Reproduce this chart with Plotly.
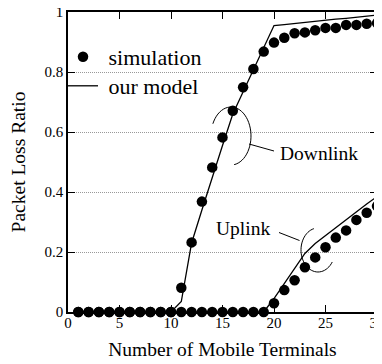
import numpy as np
import plotly.graph_objects as go

# ---------------- data ----------------
terminals = list(range(1, 31))
downlink_sim = [0]*10 + [0.081, 0.232, 0.368, 0.482, 0.582, 0.671, 0.749, 0.810, 0.868, 0.898,
                         0.914, 0.929, 0.932, 0.939, 0.947, 0.947, 0.957, 0.957, 0.961, 0.963]
uplink_sim = [0]*19 + [0.029, 0.073, 0.106, 0.149, 0.182, 0.216, 0.248, 0.272, 0.307, 0.331, 0.353]
downlink_model = [0]*10 + [0.035, 0.23, 0.34, 0.45, 0.555, 0.66, 0.735, 0.81, 0.88, 0.955,
                           0.958, 0.962, 0.965, 0.969, 0.972, 0.976, 0.979, 0.983, 0.986, 0.99]
uplink_model = [0]*19 + [0.045, 0.095, 0.148, 0.195, 0.228, 0.255, 0.282, 0.308, 0.334, 0.36, 0.385]

x_ticks = [0, 5, 10, 15, 20, 25, 30]
y_ticks = [0, 0.2, 0.4, 0.6, 0.8, 1]
y_tick_text = ["0", "0.2", "0.4", "0.6", "0.8", "1"]

FONT = "Liberation Serif"

# page geometry: the page body has an 8px margin, so the figure starts at (8, 8)
OFF = 8
PAGE_W, PAGE_H = 382, 364
PL, PR, PT, PB = 68, 377, 12, 312          # plot area in page pixels
W, H = PAGE_W - OFF, PAGE_H - OFF
ML, MR, MT, MB = PL - OFF, W - (PR - OFF), PT - OFF, H - (PB - OFF)

def px2x(px):
    return (px - PL) / (PR - PL) * 30

def py2y(py):
    return (PB - py) / (PB - PT)

def arc_path(cx, cy, rx, ry, t0, t1, n=40):
    ts = np.radians(np.linspace(t0, t1, n))
    pts = [(px2x(cx + rx*np.cos(t)), py2y(cy + ry*np.sin(t))) for t in ts]
    return "M " + " L ".join(f"{a:.4f},{b:.4f}" for a, b in pts)

fig = go.Figure()

fig.add_trace(go.Scatter(x=terminals, y=downlink_model, mode="lines",
                         line=dict(color="black", width=1.3), name="\u00a0our model",
                         legend="legend2", cliponaxis=False))
fig.add_trace(go.Scatter(x=terminals, y=uplink_model, mode="lines",
                         line=dict(color="black", width=1.3), showlegend=False,
                         cliponaxis=False))
fig.add_trace(go.Scatter(x=terminals, y=downlink_sim, mode="markers",
                         marker=dict(color="black", size=10.5, symbol="circle"),
                         name="\u00a0simulation", legend="legend", cliponaxis=False))
fig.add_trace(go.Scatter(x=terminals, y=uplink_sim, mode="markers",
                         marker=dict(color="black", size=10.5, symbol="circle"),
                         showlegend=False, cliponaxis=False))

shapes = [
    dict(type="path", xref="x", yref="y", path=arc_path(231, 136, 20, 29, -155, 81),
         line=dict(color="black", width=1)),
    dict(type="line", xref="x", yref="y", x0=px2x(249), y0=py2y(144), x1=px2x(274), y1=py2y(151),
         line=dict(color="black", width=1)),
    dict(type="path", xref="x", yref="y", path=arc_path(318, 250, 17, 22, 256, 33),
         line=dict(color="black", width=1)),
    dict(type="line", xref="x", yref="y", x0=px2x(279), y0=py2y(232.5), x1=px2x(299.5), y1=py2y(240.5),
         line=dict(color="black", width=1)),
]

annotations = [
    dict(x=px2x(319), y=py2y(153), xref="x", yref="y", text="Downlink", showarrow=False,
         font=dict(family=FONT, size=19.5, color="black")),
    dict(x=px2x(243), y=py2y(228), xref="x", yref="y", text="Uplink", showarrow=False,
         font=dict(family=FONT, size=19.5, color="black")),
]

legend_common = dict(font=dict(family=FONT, size=22, color="black"), bgcolor="rgba(0,0,0,0)",
                     borderwidth=0, xanchor="left", yanchor="middle", x=-5/(PR - PL))

fig.update_layout(
    width=W, height=H,
    margin=dict(l=ML, r=MR, t=MT, b=MB, autoexpand=False),
    paper_bgcolor="white", plot_bgcolor="white",
    font=dict(family=FONT, color="black"),
    showlegend=True,
    legend=dict(**legend_common, y=py2y(57)),
    legend2=dict(**legend_common, y=py2y(86)),
    shapes=shapes, annotations=annotations,
    xaxis=dict(range=[0, 30], tickvals=x_ticks, ticks="inside", ticklen=7, tickwidth=1,
               tickcolor="black", showline=True, linecolor="black", linewidth=1.5,
               mirror="ticks", showgrid=False, zeroline=False, layer="below traces",
               automargin=False, ticklabelstandoff=-4, ticklabeloverflow="allow",
               tickfont=dict(family=FONT, size=15, color="black"),
               title=dict(text="Number of Mobile Terminals", standoff=13,
                          font=dict(family=FONT, size=19.5, color="black"))),
    yaxis=dict(range=[0, 1], tickvals=y_ticks, ticktext=y_tick_text, ticks="inside", ticklen=7,
               tickwidth=1, tickcolor="black", showline=True, linecolor="black", linewidth=1.5,
               mirror="ticks", showgrid=True, gridcolor="#999999", griddash="1px,1px", gridwidth=1,
               zeroline=False, layer="below traces", automargin=False, ticklabeloverflow="allow",
               tickfont=dict(family=FONT, size=15, color="black"),
               title=dict(text="Packet Loss Ratio", standoff=15,
                          font=dict(family=FONT, size=19.5, color="black"))),
)

fig.write_html("out.html")
